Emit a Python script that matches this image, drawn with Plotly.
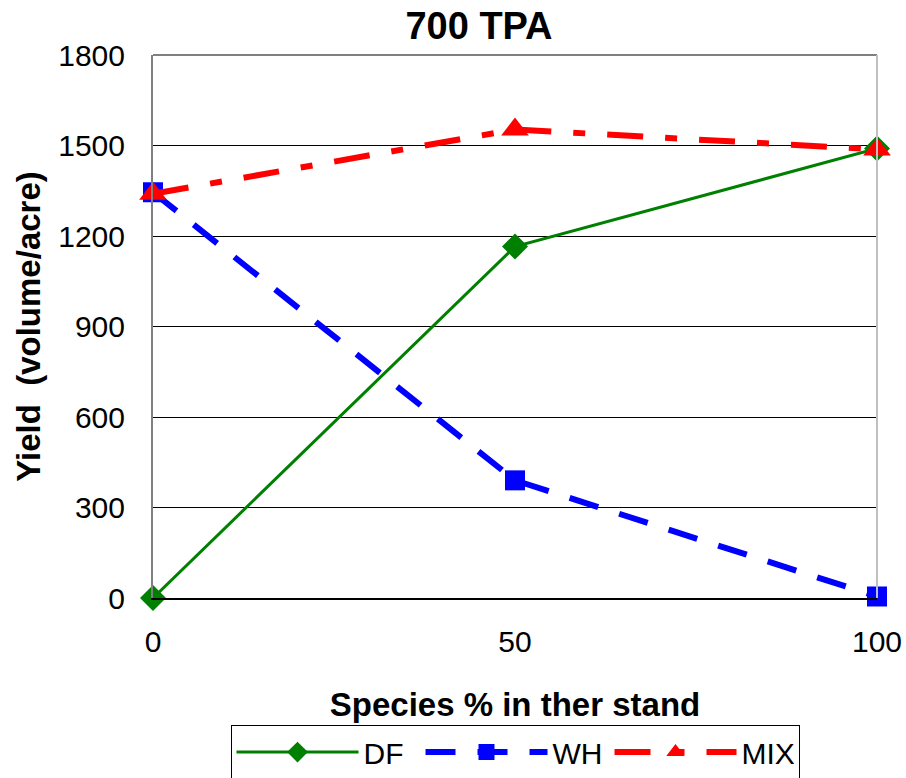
import plotly.graph_objects as go

x_vals = [0, 50, 100]
df_vals = [0, 1165, 1490]
wh_vals = [1345, 390, 5]
mix_vals = [1340, 1553, 1487]
y_ticks = [0, 300, 600, 900, 1200, 1500, 1800]
x_ticks = [0, 50, 100]

FONT = "Liberation Sans, Arial, sans-serif"
CLEAR = "rgba(0,0,0,0)"

fig = go.Figure()
fig.add_trace(go.Scatter(x=x_vals, y=df_vals, name="DF", mode="lines+markers", cliponaxis=False,
                         line=dict(color="#008000", width=3),
                         marker=dict(symbol="diamond", size=20, color="#008000")))
fig.add_trace(go.Scatter(x=x_vals, y=wh_vals, name="WH", mode="lines+markers", cliponaxis=False,
                         line=dict(color="#0000FF", width=6, dash="30px,22px"),
                         marker=dict(symbol="square", size=20, color="#0000FF")))
fig.add_trace(go.Scatter(x=x_vals, y=mix_vals, name="MIX", mode="lines+markers", cliponaxis=False,
                         line=dict(color="#FF0000", width=6, dash="36px,22px,12px,22px"),
                         marker=dict(symbol="triangle-up", size=24, color="#FF0000")))

fig.update_layout(
    template="none",
    width=906, height=778,
    margin=dict(l=153, r=29, t=55, b=180, autoexpand=False),
    paper_bgcolor="white", plot_bgcolor="white",
    font=dict(family=FONT, color="black", size=30),
    title=dict(text="<b>700 TPA</b>", x=479 / 906, xref="container", xanchor="center",
               y=1 - 26 / 778, yref="container", yanchor="middle", font=dict(size=38, family=FONT)),
    showlegend=True,
    legend=dict(orientation="h", x=0.5, xanchor="center", y=-0.234, yanchor="top",
                bordercolor="black", borderwidth=1, bgcolor="white",
                font=dict(size=30, family=FONT), itemwidth=122,
                entrywidth=52, entrywidthmode="pixels", tracegroupgap=0),
    shapes=[
        dict(type="line", xref="paper", yref="paper", x0=0, x1=1, y0=1, y1=1,
             line=dict(color="#808080", width=2), layer="above"),
        dict(type="line", xref="paper", yref="paper", x0=1, x1=1, y0=0, y1=1,
             line=dict(color="#C0C0C0", width=2), layer="above"),
    ],
)
fig.update_xaxes(range=[0, 100], tickvals=x_ticks, ticktext=[str(v) for v in x_ticks],
                 showgrid=False, zeroline=False, showline=True, linecolor="black", linewidth=2,
                 mirror=False, ticks="outside", ticklen=16, tickcolor=CLEAR, automargin=False,
                 tickfont=dict(size=30),
                 title=dict(text="<b>Species % in ther stand</b>", font=dict(size=33), standoff=36))
fig.update_yaxes(range=[0, 1800], tickvals=y_ticks, showgrid=True, gridcolor="black", gridwidth=1,
                 zeroline=False, showline=True, linecolor="#808080", linewidth=2, mirror=False,
                 ticks="outside", ticklen=20, tickcolor=CLEAR, automargin=False,
                 tickfont=dict(size=30),
                 title=dict(text="<b>Yield  (volume/acre)</b>", font=dict(size=33), standoff=8))
fig.write_html("out.html")
